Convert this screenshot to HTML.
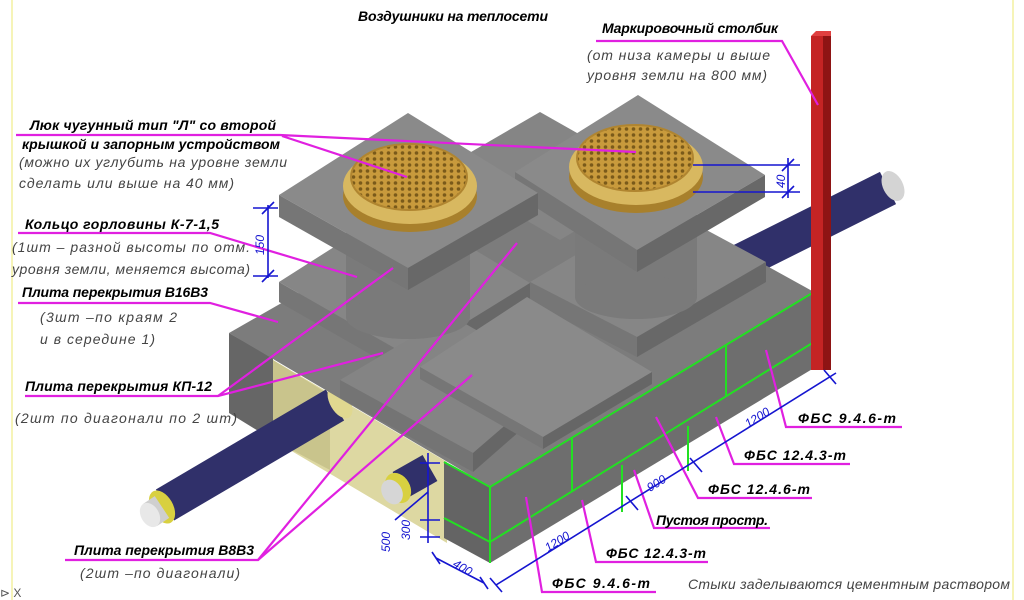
<!DOCTYPE html>
<html><head><meta charset="utf-8"><style>
html,body{margin:0;padding:0;background:#fff;}
svg{display:block;}
.lb{font-family:"Liberation Sans","DejaVu Sans",sans-serif;font-weight:bold;font-style:italic;font-size:14px;fill:#000;}
.nt{font-family:"Liberation Sans","DejaVu Sans",sans-serif;font-style:italic;font-size:14px;fill:#444;}
.dm{font-family:"Liberation Sans","DejaVu Sans",sans-serif;font-style:italic;font-size:12px;fill:#1515d0;}
</style></head><body>
<svg width="1024" height="600" viewBox="0 0 1024 600" xmlns="http://www.w3.org/2000/svg">
<defs>
<pattern id="grid" width="7" height="6" patternUnits="userSpaceOnUse">
<rect width="7" height="6" fill="#c89a3c"/>
<circle cx="3.5" cy="3" r="1.8" fill="#7a5a1a"/>
</pattern>
</defs>
<rect width="1024" height="600" fill="#fff"/>
<line x1="12" y1="0" x2="12" y2="600" stroke="#f4f0a0" stroke-width="1.5"/>
<line x1="1013" y1="0" x2="1013" y2="600" stroke="#f4f0a0" stroke-width="1.5"/>

<!-- right pipe -->
<line x1="740" y1="262" x2="888" y2="188" stroke="#30306a" stroke-width="36"/>
<ellipse cx="893" cy="186" rx="10" ry="16" transform="rotate(-27 893 186)" fill="#d4d4d4"/>

<!-- far-left wall end -->
<polygon points="229,333 273,358 273,440 229,413" fill="#666"/>
<!-- yellow interior -->
<polygon points="273,360 447,462 447,543 273,440" fill="#ddd8a2"/>
<polygon points="273,360 330,395 330,470 273,440" fill="#c9c48c"/>

<!-- left pipe -->
<line x1="165" y1="505" x2="335" y2="405" stroke="#30306a" stroke-width="36"/>
<ellipse cx="340" cy="402" rx="10" ry="18" transform="rotate(-30 340 402)" fill="#e0d890"/>
<ellipse cx="162" cy="507" rx="11" ry="18" transform="rotate(-30 162 507)" fill="#d8d040"/>
<line x1="150" y1="515" x2="162" y2="507" stroke="#cfcfcf" stroke-width="26"/>
<ellipse cx="150" cy="515" rx="9" ry="13" transform="rotate(-30 150 515)" fill="#e8e8e8"/>
<!-- front pipe -->
<line x1="400" y1="485" x2="430" y2="468" stroke="#30306a" stroke-width="30"/>
<ellipse cx="398" cy="488" rx="12" ry="16" transform="rotate(-30 398 488)" fill="#d8d040"/>
<ellipse cx="392" cy="492" rx="10" ry="13" transform="rotate(-30 392 492)" fill="#d6d6d6"/>

<!-- base box top -->
<polygon points="229,333 553,148 814,292 490,487" fill="#7c7c7c"/>
<!-- back slab between plates -->
<polygon points="440,170 540,112 660,180 560,240" fill="#858585"/>
<!-- front wall -->
<polygon points="444,462 490,487 490,563 444,538" fill="#646464"/>
<polygon points="490,487 814,292 814,368 490,563" fill="#6e6e6e"/>
<g stroke="#22e022" stroke-width="2" fill="none">
<polyline points="444,462 490,487 814,292"/>
<polyline points="444,518 490,542 814,342"/>
<line x1="490" y1="487" x2="490" y2="563"/>
<line x1="572" y1="438" x2="572" y2="492"/>
<line x1="726" y1="345" x2="726" y2="397"/>
<line x1="622" y1="465" x2="622" y2="512"/>
<line x1="688" y1="426" x2="688" y2="471"/>
</g>

<!-- mid slabs -->
<g>
<polygon points="279,282 400,205 530,283 410,357" fill="#868686"/>
<polygon points="279,282 410,357 410,377 279,302" fill="#767676"/>
<polygon points="410,357 530,283 530,303 410,377" fill="#686868"/>
<polygon points="530,282 660,205 766,262 637,337" fill="#868686"/>
<polygon points="530,282 637,337 637,357 530,302" fill="#767676"/>
<polygon points="637,337 766,262 766,282 637,357" fill="#686868"/>
<polygon points="340,380 450,315 560,378 473,453" fill="#848484"/>
<polygon points="340,380 473,453 473,472 340,398" fill="#747474"/>
<polygon points="473,453 560,378 560,396 473,472" fill="#666"/>
<!-- center slab -->
<polygon points="420,367 527,297 652,372 543,437" fill="#8a8a8a"/>
<polygon points="420,367 543,437 543,449 420,379" fill="#767676"/>
<polygon points="543,437 652,372 652,384 543,449" fill="#666"/>
</g>

<!-- cylinders -->
<rect x="346" y="230" width="124" height="87" fill="#7a7a7a"/>
<ellipse cx="408" cy="317" rx="62" ry="22" fill="#7a7a7a"/>
<rect x="575" y="215" width="122" height="82" fill="#7a7a7a"/>
<ellipse cx="636" cy="297" rx="61" ry="22" fill="#7a7a7a"/>

<!-- top plates -->
<polygon points="515,172 638,95 765,175 637,250" fill="#8a8a8a"/>
<polygon points="515,172 637,250 637,272 515,194" fill="#767676"/>
<polygon points="637,250 765,175 765,197 637,272" fill="#686868"/>
<polygon points="279,195 408,113 538,193 408,268" fill="#8a8a8a"/>
<polygon points="279,195 408,268 408,290 279,217" fill="#767676"/>
<polygon points="408,268 538,193 538,215 408,290" fill="#686868"/>

<!-- manholes -->
<g>
<ellipse cx="410" cy="196" rx="67" ry="36" fill="#a8802c"/>
<ellipse cx="410" cy="186" rx="67" ry="38" fill="#d8b860"/>
<ellipse cx="409" cy="177" rx="58" ry="33" fill="url(#grid)" stroke="#b08530" stroke-width="2"/>
<ellipse cx="636" cy="177" rx="67" ry="36" fill="#a8802c"/>
<ellipse cx="636" cy="167" rx="67" ry="38" fill="#d8b860"/>
<ellipse cx="635" cy="158" rx="58" ry="33" fill="url(#grid)" stroke="#b08530" stroke-width="2"/>
</g>

<!-- red post -->
<rect x="811" y="36" width="12" height="334" fill="#c42424"/>
<rect x="823" y="36" width="8" height="334" fill="#8e1414"/>
<polygon points="811,36 816,31 831,31 831,36" fill="#e04040"/>

<!-- leaders (magenta) -->
<g stroke="#e020e0" stroke-width="2.2" fill="none">
<polyline points="596,41 782,41 818,105"/>
<polyline points="16,135 280,135 636,152"/>
<line x1="282" y1="136" x2="407" y2="177"/>
<polyline points="18,233 210,233 357,277"/>
<polyline points="18,303 210,303 278,322"/>
<polyline points="25,396 218,396 383,353"/>
<line x1="218" y1="396" x2="393" y2="268"/>
<polyline points="65,560 258,560 517,243"/>
<line x1="258" y1="560" x2="472" y2="375"/>
<polyline points="902,427 786,427 766,350"/>
<polyline points="850,464 734,464 716,417"/>
<polyline points="812,498 698,498 656,417"/>
<polyline points="770,528 654,528 634,470"/>
<polyline points="708,562 596,562 582,500"/>
<polyline points="656,592 542,592 526,497"/>
</g>

<!-- dimensions (blue) -->
<g stroke="#1515d0" stroke-width="1.6" fill="none">
<line x1="268" y1="205" x2="268" y2="278"/>
<line x1="253" y1="208" x2="278" y2="208"/><line x1="253" y1="276" x2="278" y2="276"/>
<line x1="262" y1="214" x2="274" y2="202"/><line x1="262" y1="282" x2="274" y2="270"/>
<line x1="693" y1="165" x2="800" y2="165"/><line x1="693" y1="192" x2="800" y2="192"/>
<line x1="788" y1="158" x2="788" y2="198"/>
<line x1="782" y1="171" x2="794" y2="159"/><line x1="782" y1="198" x2="794" y2="186"/>
<line x1="496" y1="585" x2="836" y2="373"/>
<line x1="490" y1="578" x2="502" y2="592"/><line x1="626" y1="496" x2="638" y2="510"/>
<line x1="690" y1="458" x2="702" y2="472"/><line x1="824" y1="370" x2="836" y2="384"/>
<line x1="428" y1="453" x2="428" y2="543"/>
<line x1="420" y1="463" x2="440" y2="463"/><line x1="420" y1="520" x2="440" y2="520"/><line x1="420" y1="537" x2="440" y2="537"/>
<line x1="428" y1="492" x2="395" y2="520"/>
<line x1="436" y1="558" x2="484" y2="583"/>
<line x1="432" y1="552" x2="440" y2="564"/><line x1="480" y1="577" x2="488" y2="589"/>
</g>
<text class="dm" transform="translate(264,255) rotate(-90)">150</text>
<text class="dm" transform="translate(785,188) rotate(-90)">40</text>
<text class="dm" transform="translate(548,552) rotate(-32)">1200</text>
<text class="dm" transform="translate(650,492) rotate(-32)">900</text>
<text class="dm" transform="translate(748,428) rotate(-32)">1200</text>
<text class="dm" transform="translate(452,566) rotate(30)">400</text>
<text class="dm" transform="translate(390,552) rotate(-90)">500</text>
<text class="dm" transform="translate(410,540) rotate(-90)">300</text>

<!-- labels -->
<text class="lb" x="358" y="21" textLength="190">Воздушники на теплосети</text>
<text class="lb" x="602" y="33" textLength="176">Маркировочный столбик</text>
<text class="nt" x="587" y="60" textLength="183">(от низа камеры и выше</text>
<text class="nt" x="587" y="80" textLength="180">уровня земли на 800 мм)</text>
<text class="lb" x="30" y="130" textLength="246">Люк чугунный тип "Л" со второй</text>
<text class="lb" x="22" y="149" textLength="258">крышкой и  запорным устройством</text>
<text class="nt" x="19" y="167" textLength="268">(можно их углубить на уровне земли</text>
<text class="nt" x="19" y="188" textLength="215">сделать или выше на 40 мм)</text>
<text class="lb" x="25" y="229" textLength="194">Кольцо горловины К-7-1,5</text>
<text class="nt" x="12" y="252" textLength="238">(1шт – разной высоты по отм.</text>
<text class="nt" x="12" y="274" textLength="238">уровня земли, меняется высота)</text>
<text class="lb" x="22" y="297" textLength="186">Плита перекрытия В16В3</text>
<text class="nt" x="40" y="322" textLength="137">(3шт –по краям 2</text>
<text class="nt" x="40" y="344" textLength="115">и в середине 1)</text>
<text class="lb" x="25" y="391" textLength="187">Плита перекрытия КП-12</text>
<text class="nt" x="15" y="423" textLength="222">(2шт по диагонали по 2 шт)</text>
<text class="lb" x="74" y="555" textLength="180">Плита перекрытия В8В3</text>
<text class="nt" x="80" y="578" textLength="160">(2шт –по диагонали)</text>
<text class="lb" x="798" y="423" textLength="98">ФБС 9.4.6-т</text>
<text class="lb" x="744" y="460" textLength="102">ФБС 12.4.3-т</text>
<text class="lb" x="708" y="494" textLength="102">ФБС 12.4.6-т</text>
<text class="lb" x="656" y="525" textLength="112">Пустоя простр.</text>
<text class="lb" x="606" y="558" textLength="100">ФБС 12.4.3-т</text>
<text class="lb" x="552" y="588" textLength="98">ФБС 9.4.6-т</text>
<text class="nt" x="688" y="589" textLength="322">Стыки заделываются цементным раствором</text>
<text x="0" y="597" style="font-family:'Liberation Sans',sans-serif;font-size:12px;fill:#555">⊳ X</text>
</svg>
</body></html>
